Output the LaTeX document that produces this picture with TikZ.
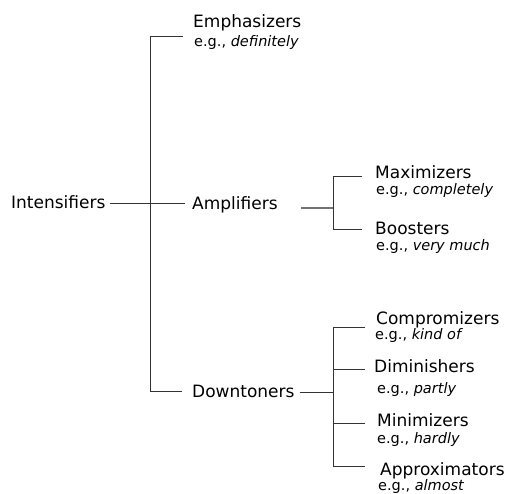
\documentclass[tikz,border=0pt]{standalone}
\usepackage{fontspec}
\setmainfont{DejaVu Sans}

\begin{document}
\begin{tikzpicture}[x=1pt, y=-1pt,
    lbl/.style={anchor=base west, inner sep=0pt, text height=12.4pt, text depth=3.6pt,
      font=\fontsize{17}{20}\selectfont},
    ex/.style={anchor=base west, inner sep=0pt, font=\fontsize{14.5}{17}\selectfont},
    conn/.style={draw=black!80, line width=1pt},
    subconn/.style={draw=black!55, line width=1.5pt}]
    \useasboundingbox (0,0) rectangle (508,493);

    % first level
    \node[lbl] (int) at (11,208) {Intensifiers};
    \node[lbl] (emph) at (193,27) {Emphasizers};
    \node[ex] (emphex) at (194,46) {e.g., \textit{definitely}};
    \node[lbl] (ampl) at (192,209) {Amplifiers};
    \node[lbl] (down) at (192,397) {Downtoners};

    % amplifiers
    \node[lbl] (maxi) at (375,178) {Maximizers};
    \node[ex] (maxiex) at (376,194) {e.g., \textit{completely}};
    \node[lbl] (boost) at (375,234) {Boosters};
    \node[ex] (boostex) at (376,250) {e.g., \textit{very much}};

    % downtoners
    \node[lbl] (comp) at (376,324) {Compromizers};
    \node[ex] (compex) at (375,339) {e.g., \textit{kind of}};
    \node[lbl] (dimi) at (374,372) {Diminishers};
    \node[ex] (dimiex) at (377,393) {e.g., \textit{partly}};
    \node[lbl] (mini) at (377,426) {Minimizers};
    \node[ex] (miniex) at (377,443) {e.g., \textit{hardly}};
    \node[lbl] (appr) at (380,475) {Approximators};
    \node[ex] (apprex) at (378,490) {e.g., \textit{almost}};

    \coordinate (trunktop) at (150,36);
    \coordinate (trunkbot) at (150,391);
    \coordinate (emphin) at (183,36);
    \coordinate (downin) at (182,391);

    \coordinate (amplout) at (301,208);
    \coordinate (ampljoin) at (333,208);
    \coordinate (maxijoin) at (333,176);
    \coordinate (maxiin) at (362,176);
    \coordinate (boostjoin) at (333,229);
    \coordinate (boostin) at (362,229);

    \coordinate (compjoin) at (333,327);
    \coordinate (compin) at (365,327);
    \coordinate (dimijoin) at (333,369);
    \coordinate (dimiin) at (365,369);
    \coordinate (minijoin) at (333,423);
    \coordinate (miniin) at (365,423);
    \coordinate (apprjoin) at (333,466);
    \coordinate (apprin) at (365,466);

    \draw[conn] (emphin) -- (trunktop) -- (trunkbot) -- (downin);
    \draw[conn] ([xshift=4pt]int.east) -- ([xshift=-7pt]int.east -| ampl.west);

    \draw[subconn] (amplout) -- (ampljoin);
    \draw[conn] (maxiin) -- (maxijoin) -- (boostjoin) -- (boostin);

    \draw[conn] ([xshift=5pt]down.east) -- (down.east -| compjoin);
    \draw[conn] (compin) -- (compjoin) -- (apprjoin) -- (apprin);
    \draw[conn] (dimijoin) -- (dimiin);
    \draw[conn] (minijoin) -- (miniin);
\end{tikzpicture}
\end{document}
